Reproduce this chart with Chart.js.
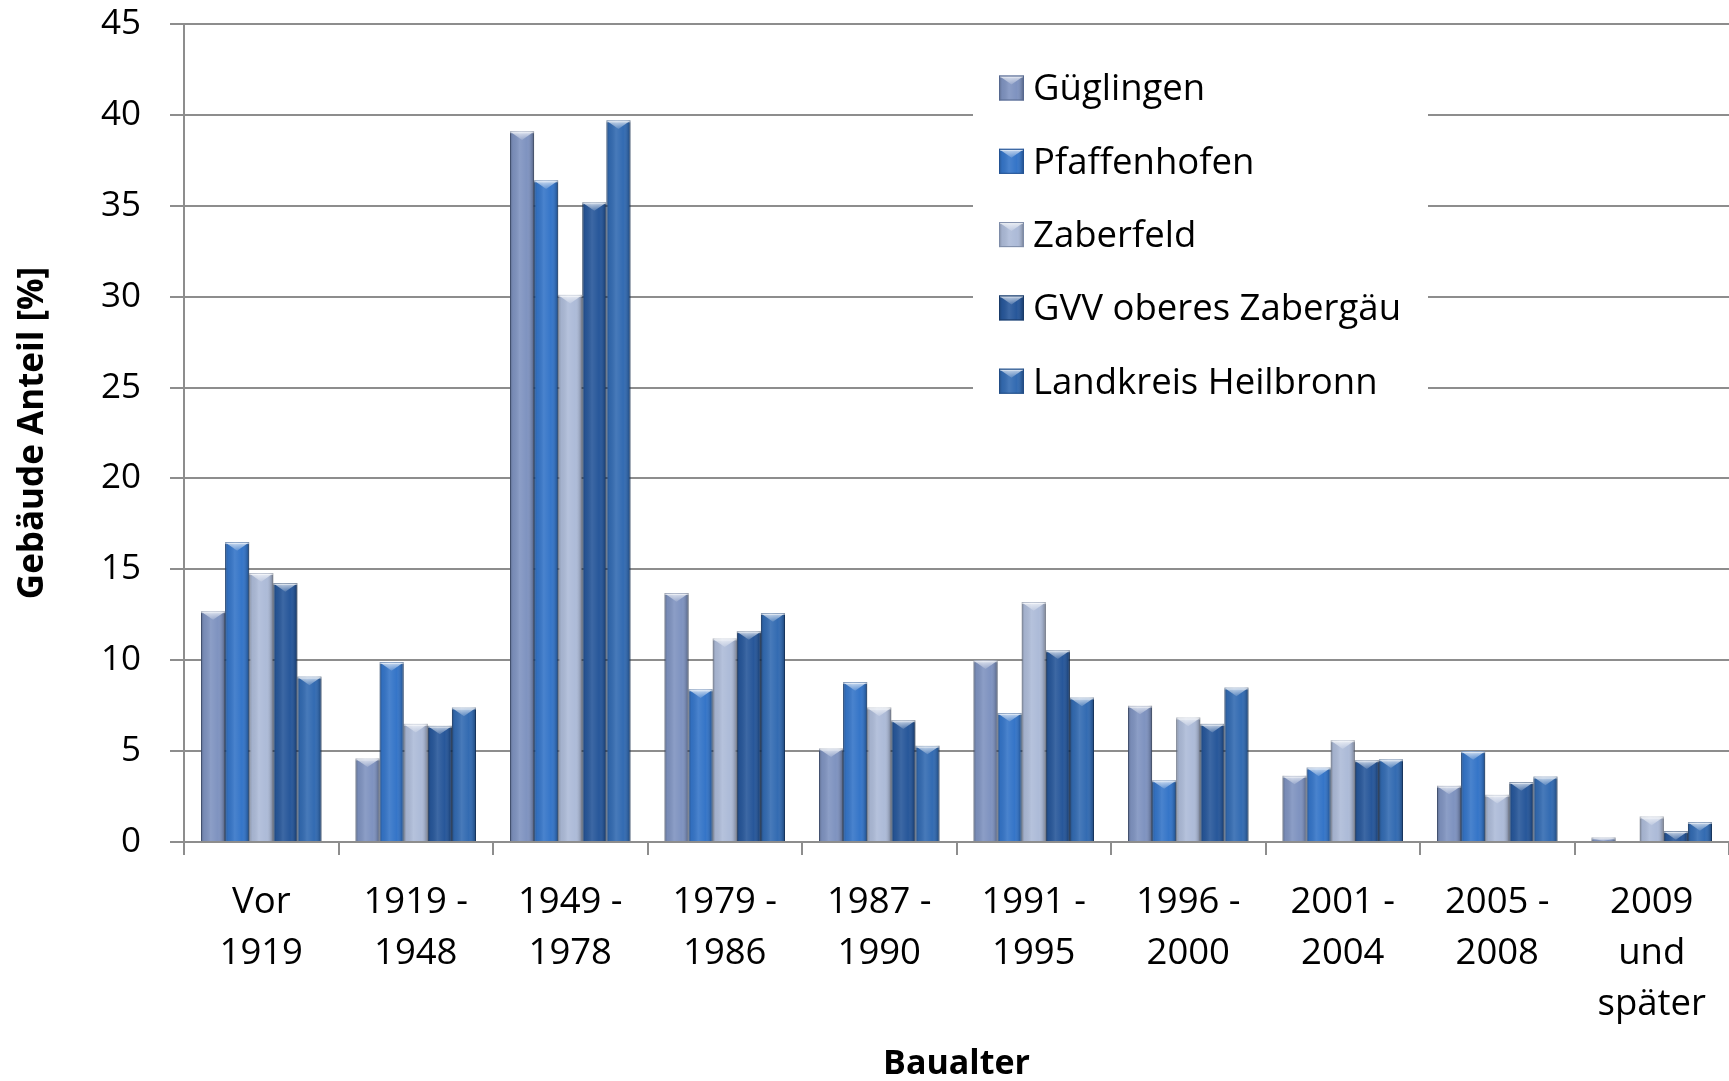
<!DOCTYPE html>
<html>
<head>
<meta charset="utf-8">
<script src="https://cdn.jsdelivr.net/npm/chart.js@4/dist/chart.umd.min.js"></script>
<style>
  html, body { margin: 0; padding: 0; background: #fff; }
</style>
</head>
<body>
<canvas id="myChart" width="1729" height="1081"></canvas>
<script>
const categories = [
	['Vor', '1919'],
	['1919 -', '1948'],
	['1949 -', '1978'],
	['1979 -', '1986'],
	['1987 -', '1990'],
	['1991 -', '1995'],
	['1996 -', '2000'],
	['2001 -', '2004'],
	['2005 -', '2008'],
	['2009', 'und', 'später'],
];
const seriesNames = ['Güglingen', 'Pfaffenhofen', 'Zaberfeld', 'GVV oberes Zabergäu', 'Landkreis Heilbronn'];
const gueglingen   = [12.7, 4.6, 39.1, 13.7, 5.15, 10.0, 7.5, 3.65, 3.1, 0.25];
const pfaffenhofen = [16.5, 9.9, 36.4, 8.4, 8.8, 7.1, 3.4, 4.1, 5.0, 0];
const zaberfeld    = [14.8, 6.5, 30.1, 11.2, 7.4, 13.2, 6.85, 5.6, 2.6, 1.4];
const gvv          = [14.25, 6.4, 35.2, 11.6, 6.7, 10.55, 6.5, 4.5, 3.3, 0.6];
const landkreis    = [9.1, 7.4, 39.7, 12.6, 5.3, 7.95, 8.5, 4.55, 3.6, 1.1];
const yMin = 0, yMax = 45, yStep = 5;

const colors = ['#7f93c0', '#3575c8', '#adbbd8', '#27579a', '#336bb2'];
const edges  = ['#56688f', '#235293', '#7e8ca8', '#193a68', '#224d86'];

const FONT = '"Open Sans", Lato, sans-serif';
const grey = '#8d8d8d';

// shading + top chevron on a bar rectangle
function bevelRect(ctx, l, top, w, h) {
	if (h < 0.5) return;
	const r = l + w, cx = l + w / 2;
	ctx.save();
	const g = ctx.createLinearGradient(l, 0, r, 0);
	g.addColorStop(0, 'rgba(0,0,0,0.26)');
	g.addColorStop(0.12, 'rgba(0,0,0,0.05)');
	g.addColorStop(0.4, 'rgba(255,255,255,0.10)');
	g.addColorStop(0.7, 'rgba(255,255,255,0.0)');
	g.addColorStop(0.9, 'rgba(0,0,0,0.14)');
	g.addColorStop(1, 'rgba(0,0,0,0.34)');
	ctx.fillStyle = g;
	ctx.fillRect(l, top, w, h);
	const ch = Math.min(w * 0.36, h);
	ctx.beginPath();
	ctx.moveTo(l + 1, top + 1);
	ctx.lineTo(r - 1, top + 1);
	ctx.lineTo(cx, top + ch);
	ctx.closePath();
	const tg = ctx.createLinearGradient(0, top, 0, top + ch);
	tg.addColorStop(0, 'rgba(255,255,255,0.75)');
	tg.addColorStop(1, 'rgba(255,255,255,0.15)');
	ctx.fillStyle = tg;
	ctx.fill();
	ctx.fillStyle = 'rgba(255,255,255,0.5)';
	ctx.fillRect(l, top, w, Math.min(2, h));
	ctx.restore();
}

const bevel = {
	id: 'bevel',
	afterDatasetDraw(chart, args) {
		const ctx = chart.ctx;
		args.meta.data.forEach(bar => {
			const {x, y, base, width} = bar.getProps(['x', 'y', 'base', 'width'], true);
			bevelRect(ctx, x - width / 2, Math.min(y, base), width, Math.abs(base - y));
		});
	}
};

// legend box sitting inside the plot area
const boxLegend = {
	id: 'boxLegend',
	afterDraw(chart) {
		const ctx = chart.ctx;
		const a = chart.chartArea;
		const bx = a.left + 789, by = 50;
		ctx.save();
		ctx.fillStyle = '#fff';
		ctx.fillRect(bx, by, 455, 352);
		ctx.font = '36.5px ' + FONT;
		ctx.textBaseline = 'middle';
		chart.data.datasets.forEach((ds, i) => {
			const yc = 88 + i * 73.3;
			const s = 25;
			ctx.fillStyle = ds.backgroundColor;
			ctx.fillRect(bx + 26, yc - s / 2, s, s);
			bevelRect(ctx, bx + 26, yc - s / 2, s, s);
			ctx.strokeStyle = ds.borderColor;
			ctx.lineWidth = 1;
			ctx.strokeRect(bx + 26.5, yc - s / 2 + 0.5, s - 1, s - 1);
			ctx.fillStyle = '#000';
			ctx.fillText(ds.label, bx + 60, yc + 2);
		});
		ctx.restore();
	}
};

const seriesData = [gueglingen, pfaffenhofen, zaberfeld, gvv, landkreis];
const datasets = seriesData.map((d, i) => ({
	label: seriesNames[i],
	data: d,
	backgroundColor: colors[i],
	borderColor: edges[i],
	borderWidth: 1,
	barPercentage: 1,
	categoryPercentage: 0.78,
}));

const ctx = document.getElementById('myChart');
const myChart = new Chart(ctx, {
	type: 'bar',
	data: { labels: categories, datasets },
	plugins: [bevel, boxLegend],
	options: {
		responsive: false,
		animation: false,
		layout: { padding: { top: 24, right: 0, left: 0, bottom: 0 } },
		plugins: {
			legend: { display: false },
			tooltip: { enabled: false }
		},
		scales: {
			x: {
				grid: { display: true, drawOnChartArea: false, drawTicks: true, tickLength: 13, offset: true, color: grey, lineWidth: 2 },
				border: { color: grey, width: 2 },
				ticks: { color: '#000', font: { family: FONT, size: 36.5, lineHeight: 1.4 }, padding: 22, maxRotation: 0, autoSkip: false },
				title: { display: true, text: 'Baualter', color: '#000', font: { family: FONT, size: 34, weight: 'bold', lineHeight: 1.0 }, padding: { top: 4, bottom: 0 } },
				afterFit(scale) {
					scale.height = 1081 - 842;
					scale.paddingLeft = 0;
					scale.paddingRight = 0;
				}
			},
			y: {
				min: yMin,
				max: yMax,
				grid: { color: grey, lineWidth: 2, drawTicks: true, tickLength: 14 },
				border: { color: grey, width: 2 },
				ticks: { stepSize: yStep, color: '#000', font: { family: FONT, size: 35 }, padding: 29 },
				title: { display: true, text: 'Gebäude Anteil [%]', color: '#000', font: { family: FONT, size: 35, weight: 'bold' }, padding: { top: 12, bottom: 0 } },
				afterFit(scale) {
					scale.width = 184;
					scale.paddingTop = 0;
					scale.paddingBottom = 0;
				}
			}
		}
	}
});
</script>
</body>
</html>
